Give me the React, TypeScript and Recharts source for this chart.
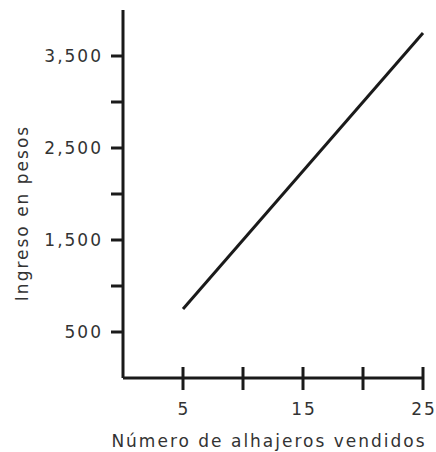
import { LineChart, Line, XAxis, YAxis, Label } from "recharts";

const alhajeros = [5, 25];
const ingreso = [750, 3750];
const xTicks = [5, 10, 15, 20, 25];
const xLabeled = [5, 15, 25];
const yTicks = [500, 1000, 1500, 2000, 2500, 3000, 3500];
const yLabeled = [500, 1500, 2500, 3500];

const data = alhajeros.map((n, i) => ({ n, ingreso: ingreso[i] }));

const FONT = "'DejaVu Sans', Verdana, sans-serif";
const INK = "#1a1a1a";
const TEXT = "#333";
const textStyle = { fontSize: 17, fontFamily: FONT, fill: TEXT, letterSpacing: 2 };

const XTick = (props: any) => {
  const { x, y, payload } = props;
  return (
    <g>
      <line x1={x} x2={x} y1={y - 11} y2={y + 12} stroke={INK} strokeWidth={3} />
      {xLabeled.includes(payload.value) && (
        <text x={x + 1} y={y + 37} textAnchor="middle" style={textStyle}>
          {payload.value}
        </text>
      )}
    </g>
  );
};

const YTick = (props: any) => {
  const { x, y, payload } = props;
  return (
    <g>
      <line x1={x - 12} x2={x} y1={y} y2={y} stroke={INK} strokeWidth={3} />
      {yLabeled.includes(payload.value) && (
        <text x={x - 20} y={y + 6} textAnchor="end" style={textStyle}>
          {payload.value.toLocaleString("en-US")}
        </text>
      )}
    </g>
  );
};

const App = () => {
  return (
    <div style={{ position: "absolute", left: 0, top: 0, background: "#fff" }}>
      <LineChart width={436} height={452} data={data} margin={{ top: 10, right: 13, left: 0, bottom: 0 }}>
        <XAxis
          dataKey="n"
          type="number"
          domain={[0, 25]}
          ticks={xTicks}
          tickSize={0}
          tickMargin={0}
          tickLine={false}
          tick={<XTick />}
          height={74}
          axisLine={{ stroke: INK, strokeWidth: 3 }}
        >
          <Label
            content={() => (
              <text x={269} y={447} textAnchor="middle" style={textStyle}>
                Número de alhajeros vendidos
              </text>
            )}
          />
        </XAxis>
        <YAxis
          type="number"
          domain={[0, 4000]}
          ticks={yTicks}
          tickSize={0}
          tickMargin={0}
          tickLine={false}
          tick={<YTick />}
          width={123}
          axisLine={{ stroke: INK, strokeWidth: 3 }}
        >
          <Label
            content={() => (
              <text
                x={28}
                y={213}
                transform="rotate(-90 28 213)"
                textAnchor="middle"
                style={textStyle}
              >
                Ingreso en pesos
              </text>
            )}
          />
        </YAxis>
        <Line
          dataKey="ingreso"
          stroke={INK}
          strokeWidth={3}
          dot={false}
          isAnimationActive={false}
        />
      </LineChart>
    </div>
  );
};

export default App;
